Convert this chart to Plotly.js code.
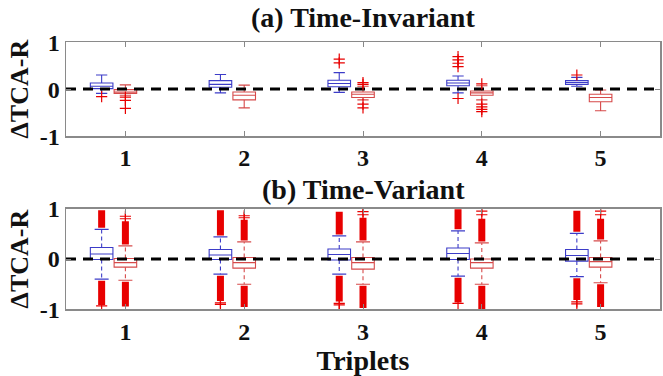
<!DOCTYPE html>
<html>
<head>
<meta charset="utf-8">
<script src="https://cdn.plot.ly/plotly-3.0.1.min.js"></script>
<style>html,body{margin:0;padding:0;background:#fff;}#chart{width:663px;height:376px;}</style>
</head>
<body>
<div id="chart"></div>
<script>
// ---------- data ----------
const triplets = [1, 2, 3, 4, 5];
const tickText = ['1', '2', '3', '4', '5'];

// (a) Time-Invariant — blue series
const tiBlueLo  = [-0.09, -0.08, -0.07, -0.08, 0.06];
const tiBlueQ1  = [ 0.01,  0.04,  0.05,  0.07, 0.10];
const tiBlueMed = [ 0.06,  0.10,  0.12,  0.13, 0.14];
const tiBlueQ3  = [ 0.13,  0.18,  0.19,  0.19, 0.18];
const tiBlueHi  = [ 0.30,  0.31,  0.35,  0.28, 0.25];
const tiBlueOut = [[-0.16], [], [0.64, 0.56], [0.69, 0.62, 0.55, 0.48, -0.20], [0.30]];

// (a) Time-Invariant — red series
const tiRedLo  = [-0.13, -0.40, -0.23, -0.23, -0.46];
const tiRedQ1  = [-0.09, -0.23, -0.18, -0.13, -0.27];
const tiRedMed = [-0.06, -0.13, -0.11, -0.08, -0.18];
const tiRedQ3  = [-0.01, -0.06, -0.06, -0.04, -0.11];
const tiRedHi  = [ 0.09,  0.085, 0.06,  0.07, -0.02];
const tiRedOut = [[-0.17, -0.24, -0.41], [], [0.10, 0.14, -0.32, -0.40], [0.11, -0.32, -0.38, -0.43, -0.48], []];

// (b) Time-Variant — blue series
const tvBlueLo  = [-0.40, -0.30, -0.30, -0.34, -0.35];
const tvBlueQ1  = [-0.01, -0.01, -0.02, -0.01, -0.04];
const tvBlueMed = [ 0.10,  0.08,  0.09,  0.11,  0.07];
const tvBlueQ3  = [ 0.23,  0.19,  0.20,  0.22,  0.19];
const tvBlueHi  = [ 0.59,  0.44,  0.46,  0.56,  0.51];
// dense outlier runs (from, to)
const tvBlueUpFrom = [0.62, 0.47, 0.49, 0.59, 0.54];
const tvBlueUpTo   = [0.97, 0.97, 0.94, 0.99, 0.96];
const tvBlueDnFrom = [-0.43, -0.33, -0.33, -0.37, -0.38];
const tvBlueDnTo   = [-0.91, -0.83, -0.84, -0.86, -0.81];
const tvBlueOut = [[-0.93], [-0.87, -0.90], [-0.88, -0.91], [-0.88], [-0.85, -0.89]];

// (b) Time-Variant — red series
const tvRedLo  = [-0.42, -0.50, -0.50, -0.50, -0.47];
const tvRedQ1  = [-0.16, -0.18, -0.20, -0.18, -0.16];
const tvRedMed = [-0.07, -0.07, -0.07, -0.07, -0.05];
const tvRedQ3  = [ 0.01,  0.03,  0.03,  0.00,  0.03];
const tvRedHi  = [ 0.26,  0.34,  0.34,  0.32,  0.36];
const tvRedUpFrom = [0.29, 0.37, 0.37, 0.35, 0.39];
const tvRedUpTo   = [0.75, 0.78, 0.82, 0.80, 0.80];
const tvRedDnFrom = [-0.45, -0.53, -0.53, -0.53, -0.50];
const tvRedDnTo   = [-0.94, -0.95, -0.97, -0.99, -0.95];
const tvRedOut = [[0.80, 0.85], [0.82, 0.86], [0.88, 0.94], [0.88, 0.95], [0.88, 0.95]];

// ---------- styling ----------
const BLUE = '#3c3cc8';
const RED_BOX = '#d64a4a';
const RED_OUT = '#e80000';
const FONT = '"Liberation Serif", "Times New Roman", serif';
const OFFSET = -0.2;   // blue box offset from tick
const BOXW = 0.19;

const bluePos = triplets.map(t => t + OFFSET);
const redPos = triplets.slice();

function boxTrace(pos, lo, q1, med, q3, hi, color, xa, ya, ownWhiskers) {
  return {
    type: 'box', x: pos, q1: q1, median: med, q3: q3,
    lowerfence: ownWhiskers ? q1 : lo, upperfence: ownWhiskers ? q3 : hi, boxpoints: false,
    width: BOXW, whiskerwidth: ownWhiskers ? 0 : 0.5,
    line: {color: color, width: 1.1}, fillcolor: 'rgba(255,255,255,0)',
    xaxis: xa, yaxis: ya, showlegend: false, hoverinfo: 'skip'
  };
}
// dashed whiskers (MATLAB style) drawn from the same statistics
function whiskerTrace(pos, lo, q1, q3, hi, color, xa, ya) {
  const xs = [], ys = [];
  pos.forEach((p, i) => { xs.push(p, p, null, p, p, null); ys.push(q3[i], hi[i], null, q1[i], lo[i], null); });
  return {
    type: 'scatter', mode: 'lines', x: xs, y: ys, xaxis: xa, yaxis: ya,
    line: {color: color, width: 1.1, dash: '4px,3px'}, showlegend: false, hoverinfo: 'skip'
  };
}
function capTrace(pos, lo, hi, color, xa, ya) {
  const xs = [], ys = [];
  pos.forEach((p, i) => { xs.push(p, p); ys.push(lo[i], hi[i]); });
  return {
    type: 'scatter', mode: 'markers', x: xs, y: ys, xaxis: xa, yaxis: ya,
    marker: {symbol: 'line-ew', size: 10, line: {color: color, width: 1.2}},
    showlegend: false, hoverinfo: 'skip'
  };
}
function outTrace(pos, outs, xa, ya) {
  const xs = [], ys = [];
  outs.forEach((arr, i) => arr.forEach(v => { xs.push(pos[i]); ys.push(v); }));
  return {
    type: 'scatter', mode: 'markers', x: xs, y: ys, xaxis: xa, yaxis: ya,
    marker: {symbol: 'cross-thin', size: 8, line: {color: RED_OUT, width: 1.2}, color: RED_OUT},
    showlegend: false, hoverinfo: 'skip'
  };
}
function bandTrace(pos, from, to, xa, ya) {
  const xs = [], ys = [];
  pos.forEach((p, i) => { xs.push(p, p, null); ys.push(from[i], to[i], null); });
  return {
    type: 'scatter', mode: 'lines', x: xs, y: ys, xaxis: xa, yaxis: ya,
    line: {color: RED_OUT, width: 7}, showlegend: false, hoverinfo: 'skip'
  };
}
function zeroTrace(xa, ya) {
  return {
    type: 'scatter', mode: 'lines', x: [0.5, 5.5], y: [0, 0], xaxis: xa, yaxis: ya,
    line: {color: '#000', width: 3, dash: '10px,7px'}, showlegend: false, hoverinfo: 'skip'
  };
}

const traces = [
  boxTrace(bluePos, tiBlueLo, tiBlueQ1, tiBlueMed, tiBlueQ3, tiBlueHi, BLUE, 'x', 'y', false),
  boxTrace(redPos, tiRedLo, tiRedQ1, tiRedMed, tiRedQ3, tiRedHi, RED_BOX, 'x', 'y', false),
  zeroTrace('x', 'y'),
  outTrace(bluePos, tiBlueOut, 'x', 'y'),
  outTrace(redPos, tiRedOut, 'x', 'y'),

  bandTrace(bluePos, tvBlueUpFrom, tvBlueUpTo, 'x2', 'y2'),
  bandTrace(bluePos, tvBlueDnFrom, tvBlueDnTo, 'x2', 'y2'),
  bandTrace(redPos, tvRedUpFrom, tvRedUpTo, 'x2', 'y2'),
  bandTrace(redPos, tvRedDnFrom, tvRedDnTo, 'x2', 'y2'),
  outTrace(bluePos, tvBlueOut, 'x2', 'y2'),
  outTrace(redPos, tvRedOut, 'x2', 'y2'),
  whiskerTrace(bluePos, tvBlueLo, tvBlueQ1, tvBlueQ3, tvBlueHi, BLUE, 'x2', 'y2'),
  whiskerTrace(redPos, tvRedLo, tvRedQ1, tvRedQ3, tvRedHi, RED_BOX, 'x2', 'y2'),
  capTrace(bluePos, tvBlueLo, tvBlueHi, BLUE, 'x2', 'y2'),
  capTrace(redPos, tvRedLo, tvRedHi, RED_BOX, 'x2', 'y2'),
  boxTrace(bluePos, tvBlueLo, tvBlueQ1, tvBlueMed, tvBlueQ3, tvBlueHi, BLUE, 'x2', 'y2', true),
  boxTrace(redPos, tvRedLo, tvRedQ1, tvRedMed, tvRedQ3, tvRedHi, RED_BOX, 'x2', 'y2', true),
  zeroTrace('x2', 'y2')
];

const tickFont = {family: FONT, size: 24, color: '#111', weight: 700};
function xAxis(anchor) {
  return {
    anchor: anchor, range: [0.5, 5.5], tickvals: triplets, ticktext: tickText,
    ticks: 'inside', ticklen: 5, tickwidth: 1, tickcolor: '#888',
    showline: true, linecolor: '#8a8a8a', linewidth: 1.5, mirror: 'ticks',
    showgrid: false, zeroline: false, tickfont: tickFont, fixedrange: true
  };
}
function yAxis(anchor, domain) {
  return {
    anchor: anchor, domain: domain, range: [-1, 1], tickvals: [-1, 0, 1], ticktext: ['-1', '0', '1'],
    ticks: 'inside', ticklen: 5, tickwidth: 1, tickcolor: '#888',
    showline: true, linecolor: '#8a8a8a', linewidth: 1.5, mirror: 'ticks',
    showgrid: false, zeroline: false, tickfont: tickFont, fixedrange: true,
    title: {text: 'ΔTCA-R', font: {family: FONT, size: 26, color: '#111', weight: 700}, standoff: 3}
  };
}

const xa2 = xAxis('y2');
xa2.title = {text: 'Triplets', font: {family: FONT, size: 28, color: '#111', weight: 700}, standoff: 0};

const layout = {
  width: 663, height: 376,
  margin: {l: 66, r: 3, t: 0, b: 0},
  paper_bgcolor: '#fff', plot_bgcolor: '#fff',
  showlegend: false, boxmode: 'overlay',
  xaxis: xAxis('y'),
  yaxis: yAxis('x', [0.638, 0.888]),
  xaxis2: xa2,
  yaxis2: yAxis('x2', [0.177, 0.445]),
  annotations: [
    {text: '(a) Time-Invariant', xref: 'paper', yref: 'paper', x: 0.5, y: 1 - 17 / 376,
     xanchor: 'center', yanchor: 'middle', showarrow: false,
     font: {family: FONT, size: 28, color: '#111', weight: 700}},
    {text: '(b) Time-Variant', xref: 'paper', yref: 'paper', x: 0.5, y: 1 - 189 / 376,
     xanchor: 'center', yanchor: 'middle', showarrow: false,
     font: {family: FONT, size: 28, color: '#111', weight: 700}}
  ]
};

Plotly.newPlot('chart', traces, layout, {staticPlot: true, displayModeBar: false});
</script>
</body>
</html>
